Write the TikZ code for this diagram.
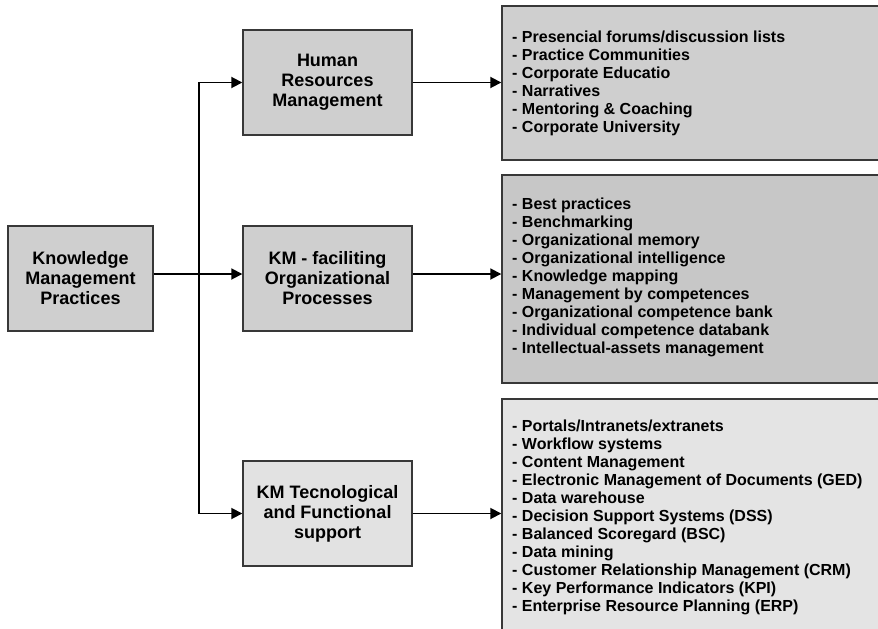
\documentclass[tikz,border=0pt]{standalone}
\usepackage{fontspec}
\setmainfont{Liberation Sans}
\usetikzlibrary{arrows.meta}
\definecolor{boxA}{HTML}{CFCFCF}
\definecolor{boxB}{HTML}{C7C7C7}
\definecolor{boxC}{HTML}{E2E2E2}
\definecolor{boxD}{HTML}{E4E4E4}
\definecolor{edge}{HTML}{383838}
\tikzset{
  midbox/.style={draw=edge, line width=1.4pt, rectangle, inner sep=0pt,
    minimum width=169pt, minimum height=105pt, align=center,
    font=\bfseries\fontsize{18}{20}\selectfont},
  listbox/.style={draw=edge, line width=1.4pt, rectangle, inner sep=0pt, minimum width=388pt},
  listtext/.style={anchor=west, inner sep=0pt, align=left,
    font=\bfseries\fontsize{16}{18}\selectfont},
  arr/.style={line width=1.8pt, -{Triangle[length=11pt,width=11pt]}},
  plain/.style={line width=1.8pt}
}
\begin{document}
\begin{tikzpicture}[x=1pt,y=-1pt]
\useasboundingbox (0,0) rectangle (878,629);
\clip (0,0) rectangle (878,629);
% central column
\node[midbox, fill=boxA, minimum width=145pt] (kmp) at (80.5,278.5) {Knowledge\\Management\\Practices};
\node[midbox, fill=boxA] (hrm) at (327.5,82.5) {Human\\Resources\\Management};
\node[midbox, fill=boxA] (fac) at (327.5,278.5) {KM - faciliting\\Organizational\\Processes};
\node[midbox, fill=boxC] (tec) at (327.5,513.5) {KM Tecnological\\and Functional\\support};
% right list boxes
\node[listbox, fill=boxA, minimum height=154pt] (r1) at (696,83) {};
\node[listbox, fill=boxB, minimum height=208pt] (r2) at (696,279) {};
\node[listbox, fill=boxD, minimum height=241pt] (r3) at (696,519.5) {};
\node[listtext] (l1) at (512,83.5) {- Presencial forums/discussion lists\\- Practice Communities\\- Corporate Educatio\\- Narratives\\- Mentoring \& Coaching\\- Corporate University};
\node[listtext] (l2) at (512,277.5) {- Best practices\\- Benchmarking\\- Organizational memory\\- Organizational intelligence\\- Knowledge mapping\\- Management by competences\\- Organizational competence bank\\- Individual competence databank\\- Intellectual-assets management};
\node[listtext] (l3) at (512,517) {- Portals/Intranets/extranets\\- Workflow systems\\- Content Management\\- Electronic Management of Documents (GED)\\- Data warehouse\\- Decision Support Systems (DSS)\\- Balanced Scoregard (BSC)\\- Data mining\\- Customer Relationship Management (CRM)\\- Key Performance Indicators (KPI)\\- Enterprise Resource Planning (ERP)};
% connectors
\coordinate (ka) at ([yshift=4.5pt]kmp.east);
\coordinate (fa) at ([yshift=4.5pt]fac.west);
\coordinate (jn) at (199,274);
\draw[arr] (ka) -- (fa);
\draw[arr] (jn) |- (hrm.west);
\draw[arr] (jn) |- (tec.west);
\draw[arr] (hrm.east) -- (hrm.east -| r1.west);
\coordinate (fe) at ([yshift=4.5pt]fac.east);
\draw[arr] (fe) -- (fe -| r2.west);
\draw[arr] (tec.east) -- (tec.east -| r3.west);
\end{tikzpicture}
\end{document}
